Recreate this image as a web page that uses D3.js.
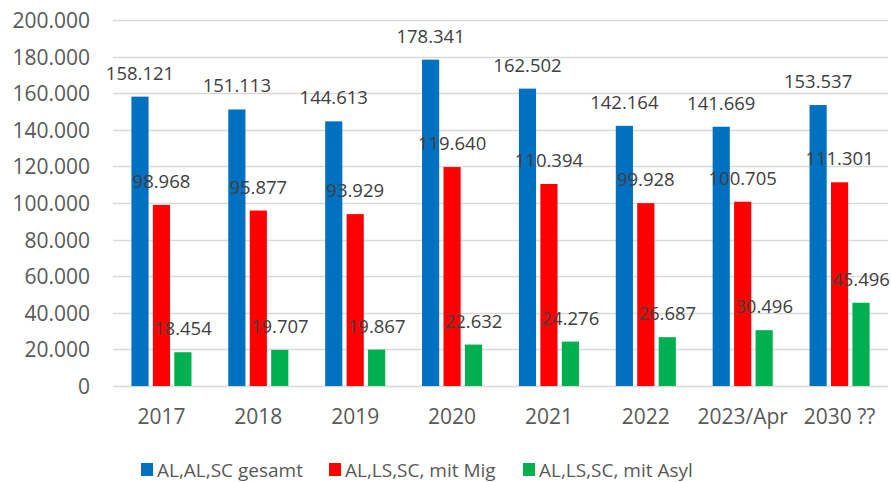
<!DOCTYPE html>
<html>
<head>
<meta charset="utf-8">
<script src="https://cdn.jsdelivr.net/npm/d3@7"></script>
<style>
  body { margin: 0; background: #fff; }
  svg { display: block; font-family: "Open Sans", sans-serif; }
</style>
</head>
<body>
<svg id="chart" width="891" height="482"></svg>
<script>
// data
var categories = ["2017", "2018", "2019", "2020", "2021", "2022", "2023/Apr", "2030 ??"];
var seriesNames = ["AL,AL,SC gesamt", "AL,LS,SC, mit Mig", "AL,LS,SC, mit Asyl"];
var gesamt = [158121, 151113, 144613, 178341, 162502, 142164, 141669, 153537];
var mitMig = [98968, 95877, 93929, 119640, 110394, 99928, 100705, 111301];
var mitAsyl = [18454, 19707, 19867, 22632, 24276, 26687, 30496, 45496];
var yTicks = [0, 20000, 40000, 60000, 80000, 100000, 120000, 140000, 160000, 180000, 200000];
var colors = ["#0070C0", "#FF0000", "#00B050"];

var values = [gesamt, mitMig, mitAsyl];

var de = d3.formatLocale({ decimal: ",", thousands: ".", grouping: [3], currency: ["", " €"] });
var fmt = de.format(",d");

var svg = d3.select("#chart");
var plotL = 113, plotR = 888, plotT = 20, plotB = 386;

var x0 = d3.scaleBand().domain(categories).range([plotL, plotR])
  .paddingInner(0.38).paddingOuter(0.19);
var x1 = d3.scaleBand().domain(d3.range(3)).range([0, x0.bandwidth()])
  .paddingInner(0.2).paddingOuter(0);
var y = d3.scaleLinear().domain([0, 200000]).range([plotB, plotT]);

// gridlines
svg.append("g").selectAll("line").data(yTicks).enter().append("line")
  .attr("x1", plotL).attr("x2", plotR)
  .attr("y1", function(d){ return Math.round(y(d)) + 0.5; })
  .attr("y2", function(d){ return Math.round(y(d)) + 0.5; })
  .attr("stroke", "#D9D9D9").attr("stroke-width", 1.3);

// y axis labels
var yAxis = d3.axisLeft(y).tickValues(yTicks).tickFormat(fmt).tickSize(0).tickPadding(0);
var ya = svg.append("g").attr("transform", "translate(90,0)").call(yAxis);
ya.select(".domain").remove();
ya.selectAll("text").attr("fill", "#595959").style("font-size", "21px")
  .style("font-family", "Open Sans, sans-serif").attr("dy", "0.36em");

// x axis labels
var xAxis = d3.axisBottom(x0).tickSize(0).tickPadding(0);
var xa = svg.append("g").attr("transform", "translate(0,407)").call(xAxis);
xa.select(".domain").remove();
xa.selectAll("text").attr("fill", "#595959").style("font-size", "21px")
  .style("font-family", "Open Sans, sans-serif").attr("dy", "0.8em");

// bars + labels per series
values.forEach(function(vals, s) {
  var g = svg.append("g");
  g.selectAll("rect").data(vals).enter().append("rect")
    .attr("x", function(d, i){ return x0(categories[i]) + x1(s); })
    .attr("y", function(d){ return y(d); })
    .attr("width", x1.bandwidth())
    .attr("height", function(d){ return y(0) - y(d); })
    .attr("fill", colors[s]);
  g.selectAll("text").data(vals).enter().append("text")
    .attr("x", function(d, i){ return x0(categories[i]) + x1(s) + x1.bandwidth() / 2; })
    .attr("y", function(d){ return y(d) - 17; })
    .attr("text-anchor", "middle")
    .attr("fill", "#404040")
    .style("font-size", "18.5px")
    .text(function(d){ return fmt(d); });
});

// legend
var legendX = [141, 329, 523];
var lg = svg.append("g");
seriesNames.forEach(function(name, i) {
  lg.append("rect").attr("x", legendX[i]).attr("y", 463).attr("width", 12).attr("height", 13)
    .attr("fill", colors[i]);
  lg.append("text").attr("x", legendX[i] + 16).attr("y", 477)
    .attr("fill", "#595959").style("font-size", "19px").text(name);
});
</script>
</body>
</html>
